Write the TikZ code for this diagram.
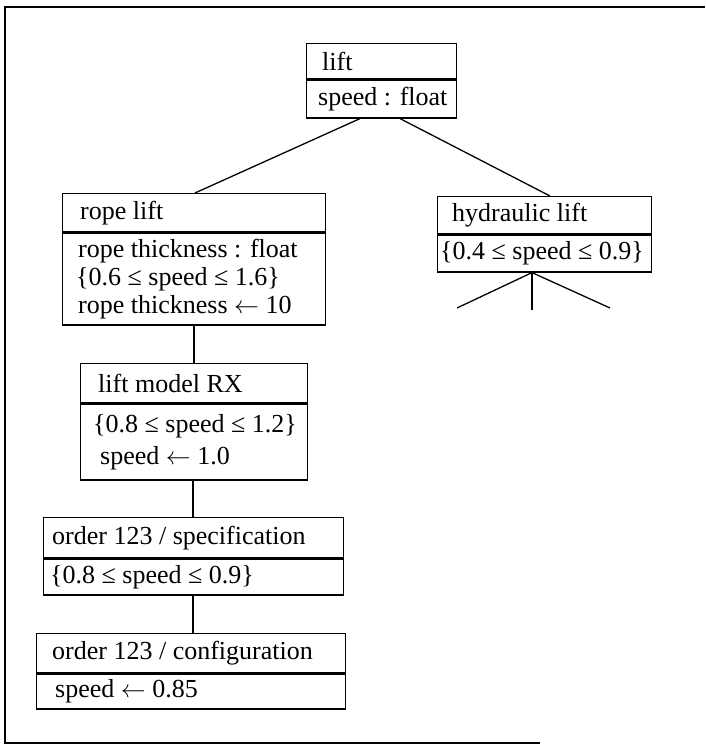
\documentclass[tikz,border=0pt]{standalone}
\usepackage{fontspec}
\setmainfont{Liberation Serif}
\usetikzlibrary{calc}
\begin{document}
\begin{tikzpicture}[x=1pt,y=-1pt,
  cell/.style={draw, line width=1.3pt, anchor=north west, inner sep=0pt},
  txt/.style={anchor=west, inner sep=0pt, align=left, font=\fontsize{26}{28}\selectfont},
  link/.style={line width=1.3pt}]
\useasboundingbox (0,0) rectangle (705,746);
% outer frame (open on the right)
\draw[line width=1.6pt] (705,7) -- (5,7) -- (5,743) -- (540,743);

% lift
\node[cell, minimum width=150pt, minimum height=35pt] (liftH) at (306,43) {};
\node[cell, minimum width=150pt, minimum height=38pt] (liftB) at (liftH.south west) {};
\node[txt] (liftHt) at ($(liftH.west)+(16,0)$) {lift};
\node[txt] (liftBt) at ($(liftB.west)+(12,0)$) {speed : float};

% rope lift
\node[cell, minimum width=263pt, minimum height=38pt] (ropeH) at (62,193) {};
\node[cell, minimum width=263pt, minimum height=92pt] (ropeB) at (ropeH.south west) {};
\node[txt] (ropeHt) at ($(ropeH.west)+(18,0)$) {rope lift};
\node[txt, font=\fontsize{26}{28}\selectfont] (ropeBt) at ($(ropeB.west)+(14,0)$)
  {\hspace*{2pt}rope thickness : float\\\{0.6 ≤ speed ≤ 1.6\}\\\hspace*{2pt}rope thickness $\leftarrow$ 10};

% hydraulic lift
\node[cell, minimum width=214pt, minimum height=37pt] (hydH) at (437,196) {};
\node[cell, minimum width=214pt, minimum height=37pt] (hydB) at (hydH.south west) {};
\node[txt] (hydHt) at ($(hydH.west)+(15,0)$) {hydraulic lift};
\node[txt] (hydBt) at ($(hydB.west)+(3,0)$) {\{0.4 ≤ speed ≤ 0.9\}};

% lift model RX
\node[cell, minimum width=227pt, minimum height=39pt] (rxH) at (80,363) {};
\node[cell, minimum width=227pt, minimum height=76pt] (rxB) at (rxH.south west) {};
\node[txt] (rxHt) at ($(rxH.west)+(18,0)$) {lift model RX};
\node[txt, font=\fontsize{26}{32}\selectfont] (rxBt) at ($(rxB.west)+(13,0)$)
  {\{0.8 ≤ speed ≤ 1.2\}\\\hspace*{7pt}speed $\leftarrow$ 1.0};

% order 123 / specification
\node[cell, minimum width=300pt, minimum height=40pt] (specH) at (43,517) {};
\node[cell, minimum width=300pt, minimum height=36pt] (specB) at (specH.south west) {};
\node[txt] (specHt) at ($(specH.west)+(9,0)$) {order 123 / specification};
\node[txt] (specBt) at ($(specB.west)+(7,0)$) {\{0.8 ≤ speed ≤ 0.9\}};

% order 123 / configuration
\node[cell, minimum width=309pt, minimum height=39pt] (confH) at (36,633) {};
\node[cell, minimum width=309pt, minimum height=35pt] (confB) at (confH.south west) {};
\node[txt] (confHt) at ($(confH.west)+(16,0)$) {order 123 / configuration};
\node[txt] (confBt) at ($(confB.west)+(19,0)$) {speed $\leftarrow$ 0.85};

% tree connectors
\draw[link] ($(liftB.south west)+(54,0)$) -- ($(ropeH.north west)+(133,0)$);
\draw[link] ($(liftB.south west)+(94,0)$) -- ($(hydH.north west)+(113,0)$);
\draw[link] ($(ropeB.south west)+(132,0)$) -- ($(rxH.north west)+(114,0)$);
\draw[link] ($(rxB.south west)+(113,0)$) -- ($(specH.north west)+(150,0)$);
\draw[link] ($(specB.south west)+(150,0)$) -- ($(confH.north west)+(157,0)$);

% open branches below hydraulic lift
\coordinate (hydApex) at ($(hydB.south west)+(95,0)$);
\coordinate (brA) at (457,308);
\coordinate (brB) at (532,310);
\coordinate (brC) at (610,308);
\draw[link] (hydApex) -- (brA);
\draw[link] (hydApex) -- (brB);
\draw[link] (hydApex) -- (brC);
\end{tikzpicture}
\end{document}
